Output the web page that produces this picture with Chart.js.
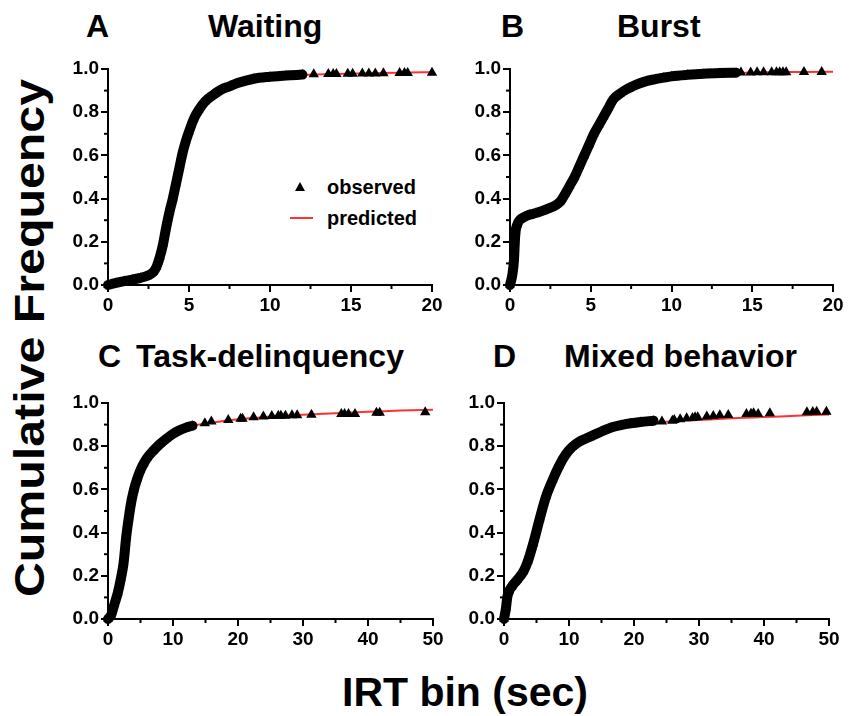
<!DOCTYPE html>
<html lang="en">
<head>
<meta charset="utf-8">
<title>Cumulative IRT</title>
<script src="https://cdn.jsdelivr.net/npm/chart.js@4.4.0/dist/chart.umd.min.js"></script>
<style>
  body { margin:0; background:#fff; width:850px; height:716px; position:relative; overflow:hidden;
         font-family:"Liberation Sans", Arial, sans-serif; font-weight:bold; color:#000; }
  .box { position:absolute; }
  .t { position:absolute; white-space:nowrap; font-size:32px; line-height:32px; }
  .lg { position:absolute; white-space:nowrap; font-size:20px; line-height:20px; }
</style>
</head>
<body>

<!-- panel titles -->
<div class="t" style="left:86px;top:10px;">A</div>
<div class="t" style="left:208px;top:10px;">Waiting</div>
<div class="t" style="left:501px;top:10px;">B</div>
<div class="t" style="left:617px;top:10px;">Burst</div>
<div class="t" style="left:98px;top:340px;">C</div>
<div class="t" style="left:136px;top:340px;">Task-delinquency</div>
<div class="t" style="left:493px;top:340px;">D</div>
<div class="t" style="left:564px;top:340px;">Mixed behavior</div>

<!-- axis titles -->
<div style="position:absolute;left:30px;top:338px;font-size:42px;line-height:42px;white-space:nowrap;
            transform:translate(-50%,-50%) rotate(-90deg) scaleX(1.15);">Cumulative Frequency</div>
<div style="position:absolute;left:465px;top:692px;font-size:41px;line-height:41px;white-space:nowrap;
            transform:translate(-50%,-50%);">IRT bin (sec)</div>

<!-- legend in panel A -->
<div style="position:absolute;left:295px;top:182px;width:0;height:0;
            border-left:5px solid transparent;border-right:5px solid transparent;border-bottom:9px solid #000;"></div>
<div class="lg" style="left:327px;top:177px;">observed</div>
<div style="position:absolute;left:290px;top:217px;width:23px;height:2px;background:rgb(255,50,50);"></div>
<div class="lg" style="left:327px;top:208px;">predicted</div>

<div class="box" style="left:48px;top:55px;"><canvas id="cA" width="404" height="260"></canvas></div>
<div class="box" style="left:450px;top:55px;"><canvas id="cB" width="403" height="260"></canvas></div>
<div class="box" style="left:48px;top:389px;"><canvas id="cC" width="405" height="260"></canvas></div>
<div class="box" style="left:444px;top:389px;"><canvas id="cD" width="405" height="260"></canvas></div>

<script>
// ---- data ----
// A: Waiting
var waitObsX = [0, 0.5, 1, 1.5, 2, 2.5, 2.8, 3.0, 3.2, 3.4, 3.6, 3.8, 4.0, 4.2, 4.4, 4.6, 4.8, 5.0, 5.3, 5.6, 6.0, 6.5, 7.0, 7.5, 8.0, 9.0, 10.0, 11.0, 12.0];
var waitObsY = [0, 0.01, 0.018, 0.025, 0.033, 0.045, 0.06, 0.085, 0.13, 0.19, 0.27, 0.34, 0.40, 0.47, 0.54, 0.61, 0.665, 0.71, 0.77, 0.81, 0.85, 0.88, 0.905, 0.92, 0.935, 0.955, 0.964, 0.97, 0.974];
var waitTailX = [12.7, 13.6, 13.9, 14.1, 14.8, 15.1, 15.7, 16.1, 16.5, 17.0, 18.0, 18.3, 18.5, 20.0];
var waitTailY = [0.976, 0.977, 0.977, 0.977, 0.978, 0.978, 0.979, 0.979, 0.979, 0.98, 0.981, 0.981, 0.981, 0.983];
var waitPredX = [0, 1, 2, 2.5, 3, 3.5, 4, 4.5, 5, 5.5, 6, 6.5, 7, 8, 9, 10, 12, 14, 16, 18, 20];
var waitPredY = [0, 0.015, 0.03, 0.045, 0.09, 0.23, 0.40, 0.58, 0.71, 0.80, 0.855, 0.89, 0.915, 0.94, 0.955, 0.963, 0.972, 0.977, 0.98, 0.983, 0.985];

// B: Burst
var burstObsX = [0, 0.15, 0.25, 0.3, 0.35, 0.45, 0.6, 0.9, 1.2, 1.6, 2.0, 2.4, 2.8, 3.1, 3.4, 3.7, 4.0, 4.3, 4.6, 4.9, 5.2, 5.5, 5.8, 6.1, 6.4, 6.8, 7.2, 7.6, 8.0, 8.5, 9.0, 9.5, 10, 11, 12, 13, 14];
var burstObsY = [0, 0.05, 0.12, 0.2, 0.25, 0.28, 0.30, 0.315, 0.325, 0.333, 0.343, 0.355, 0.368, 0.385, 0.42, 0.46, 0.5, 0.55, 0.6, 0.65, 0.7, 0.74, 0.78, 0.82, 0.86, 0.885, 0.905, 0.92, 0.933, 0.945, 0.953, 0.96, 0.966, 0.973, 0.978, 0.981, 0.983];
var burstTailX = [14.3, 14.9, 15.3, 15.7, 16.2, 16.5, 16.7, 16.9, 17.1, 18.2, 19.3];
var burstTailY = [0.984, 0.984, 0.985, 0.985, 0.985, 0.985, 0.985, 0.985, 0.985, 0.986, 0.986];
var burstPredX = [0, 0.2, 0.4, 0.6, 1, 2, 3, 3.5, 4, 4.5, 5, 5.5, 6, 6.5, 7, 8, 9, 10, 12, 14, 16, 18, 20];
var burstPredY = [0, 0.12, 0.25, 0.295, 0.318, 0.342, 0.38, 0.43, 0.5, 0.58, 0.66, 0.74, 0.80, 0.86, 0.89, 0.93, 0.952, 0.965, 0.977, 0.982, 0.985, 0.986, 0.987];

// C: Task-delinquency
var taskObsX = [0, 0.5, 1, 1.5, 2, 2.4, 2.8, 3.2, 3.6, 4.0, 4.5, 5, 5.5, 6, 7, 8, 9, 10, 11, 12, 13];
var taskObsY = [0, 0.02, 0.07, 0.12, 0.19, 0.26, 0.38, 0.47, 0.545, 0.6, 0.65, 0.69, 0.72, 0.745, 0.78, 0.81, 0.835, 0.857, 0.874, 0.886, 0.895];
var taskTailX = [14.9, 15.9, 18.5, 20.4, 20.7, 22.4, 23.9, 25.2, 26.2, 26.6, 27.3, 28.3, 29.1, 31.3, 35.9, 36.4, 37.0, 38.0, 41.3, 41.8, 48.8];
var taskTailY = [0.906, 0.914, 0.921, 0.927, 0.927, 0.934, 0.937, 0.940, 0.941, 0.941, 0.941, 0.943, 0.943, 0.946, 0.949, 0.949, 0.949, 0.949, 0.955, 0.955, 0.957];
var taskPredX = [0, 1, 2, 3, 4, 5, 6, 8, 10, 12, 15, 20, 25, 30, 35, 40, 45, 50];
var taskPredY = [0, 0.07, 0.19, 0.43, 0.6, 0.69, 0.745, 0.815, 0.872, 0.89, 0.905, 0.925, 0.937, 0.946, 0.953, 0.959, 0.965, 0.969];

// D: Mixed behavior
var mixObsX = [0, 0.3, 0.5, 0.8, 1.2, 2, 3, 3.7, 4.5, 5.5, 6.5, 7.5, 8.5, 9.5, 10.5, 11.5, 12.7, 14, 15, 16.5, 18, 19.5, 21, 23];
var mixObsY = [0, 0.05, 0.1, 0.13, 0.15, 0.18, 0.22, 0.27, 0.35, 0.465, 0.57, 0.645, 0.71, 0.762, 0.797, 0.82, 0.837, 0.855, 0.868, 0.887, 0.898, 0.906, 0.912, 0.918];
var mixTailX = [24.3, 25.9, 26.2, 27.1, 28.1, 29.0, 29.4, 29.8, 31.2, 32.2, 33.2, 34.5, 37.3, 38.0, 38.4, 39.1, 40.9, 46.6, 47.5, 48.1, 49.6];
var mixTailY = [0.914, 0.918, 0.921, 0.925, 0.929, 0.931, 0.934, 0.934, 0.937, 0.940, 0.943, 0.944, 0.949, 0.95, 0.952, 0.949, 0.952, 0.957, 0.958, 0.96, 0.96];
var mixPredX = [0, 0.5, 1, 2, 3, 4, 5, 6, 7, 8, 9, 10, 11, 12, 14, 16, 18, 20, 25, 30, 35, 40, 45, 50];
var mixPredY = [0, 0.1, 0.14, 0.18, 0.22, 0.3, 0.41, 0.515, 0.6, 0.68, 0.74, 0.785, 0.815, 0.835, 0.86, 0.88, 0.893, 0.903, 0.913, 0.921, 0.929, 0.935, 0.941, 0.947];

var yTicks = [0, 0.2, 0.4, 0.6, 0.8, 1.0];

function pts(xs, ys) {
  var out = [];
  for (var i = 0; i < xs.length; i++) out.push({x: xs[i], y: ys[i]});
  return out;
}

// short minor ticks between the labelled ones
var minorTicks = {
  id: 'minorTicks',
  afterDraw: function(chart) {
    var ctx = chart.ctx, xs = chart.scales.x, ys = chart.scales.y, a = chart.chartArea;
    var step = chart.options.scales.x.ticks.stepSize;
    ctx.save();
    ctx.strokeStyle = '#000';
    ctx.lineWidth = 2;
    for (var v = step / 2; v < xs.max; v += step) {
      var px = xs.getPixelForValue(v);
      ctx.beginPath(); ctx.moveTo(px, a.bottom); ctx.lineTo(px, a.bottom + 4); ctx.stroke();
    }
    for (var w = 0.1; w < 1; w += 0.2) {
      var py = ys.getPixelForValue(w);
      ctx.beginPath(); ctx.moveTo(a.left - 4, py); ctx.lineTo(a.left, py); ctx.stroke();
    }
    ctx.restore();
  }
};

var tickFont = {family: '"Liberation Sans", Arial, sans-serif', size: 19, weight: 'bold'};

function makePanel(id, xMax, xStep, obsX, obsY, tailX, tailY, predX, predY) {
  new Chart(document.getElementById(id), {
    type: 'scatter',
    data: {
      datasets: [
        { data: pts(obsX, obsY), showLine: true, cubicInterpolationMode: 'monotone',
          borderColor: '#000', borderWidth: 10, borderCapStyle: 'round', borderJoinStyle: 'round',
          pointStyle: 'triangle', pointRadius: 5.5, backgroundColor: '#000', pointBorderWidth: 0,
          clip: false, order: 1 },
        { data: pts(tailX, tailY), showLine: false,
          pointStyle: 'triangle', pointRadius: 6, backgroundColor: '#000', pointBorderWidth: 0,
          clip: false, order: 1 },
        { data: pts(predX, predY), showLine: true, cubicInterpolationMode: 'monotone',
          borderColor: 'rgb(255,50,50)', borderWidth: 2, pointRadius: 0, clip: false, order: 2 }
      ]
    },
    options: {
      responsive: false,
      animation: false,
      layout: { padding: { top: 14, right: 20, left: 0, bottom: 0 } },
      plugins: { legend: { display: false }, tooltip: { enabled: false } },
      scales: {
        x: {
          type: 'linear', min: 0, max: xMax,
          afterFit: function(s) { s.height = 30; },
          ticks: { stepSize: xStep, color: '#000', font: tickFont, padding: 2, maxRotation: 0, autoSkip: false },
          grid: { drawOnChartArea: false, color: '#000', lineWidth: 2, tickLength: 7 },
          border: { color: '#000', width: 2 }
        },
        y: {
          type: 'linear', min: 0, max: 1,
          afterFit: function(s) { s.width = 60; },
          afterBuildTicks: function(s) { s.ticks = yTicks.map(function(v) { return {value: v}; }); },
          ticks: { color: '#000', font: tickFont, padding: 2,
                   callback: function(v) { return Number(v).toFixed(1); } },
          grid: { drawOnChartArea: false, color: '#000', lineWidth: 2, tickLength: 7 },
          border: { color: '#000', width: 2 }
        }
      }
    },
    plugins: [minorTicks]
  });
}

makePanel('cA', 20, 5, waitObsX, waitObsY, waitTailX, waitTailY, waitPredX, waitPredY);
makePanel('cB', 20, 5, burstObsX, burstObsY, burstTailX, burstTailY, burstPredX, burstPredY);
makePanel('cC', 50, 10, taskObsX, taskObsY, taskTailX, taskTailY, taskPredX, taskPredY);
makePanel('cD', 50, 10, mixObsX, mixObsY, mixTailX, mixTailY, mixPredX, mixPredY);
</script>
</body>
</html>
